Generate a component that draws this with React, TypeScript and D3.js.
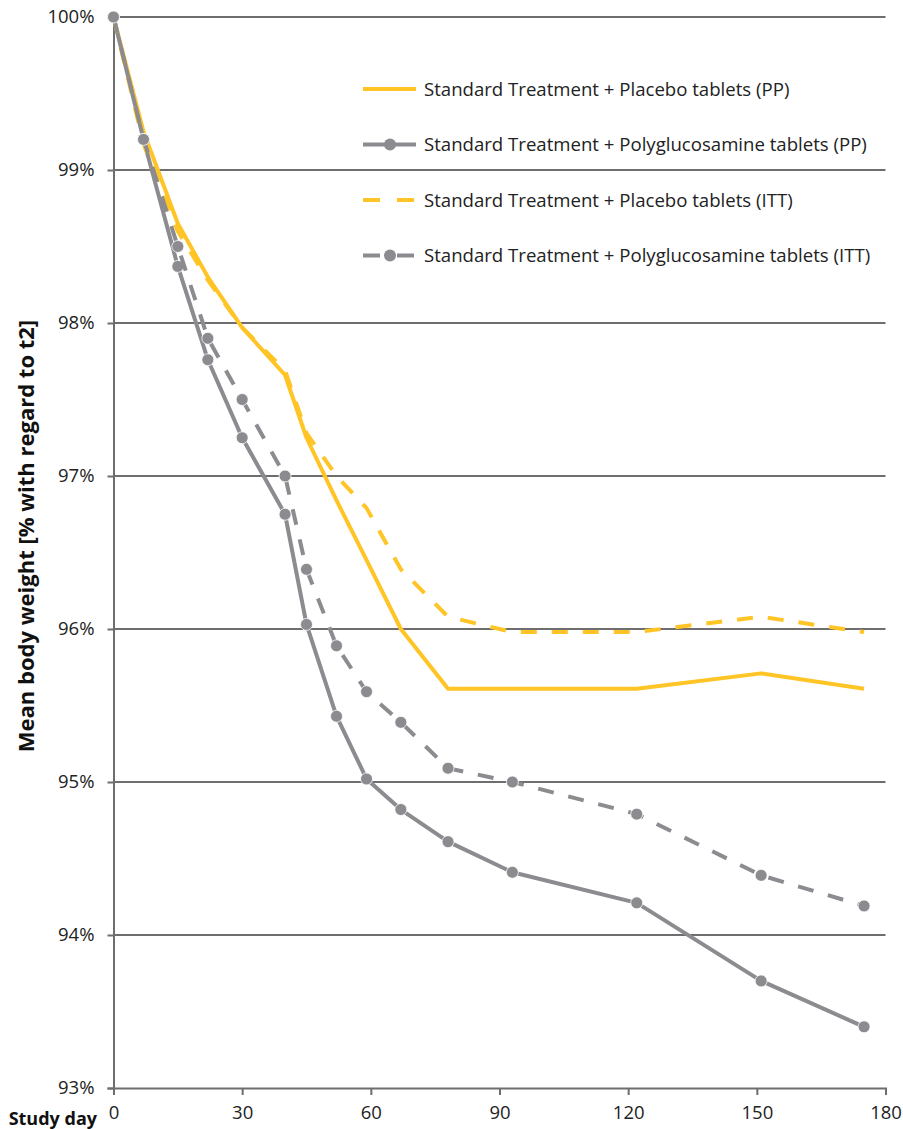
import React, { useEffect, useRef } from "react";
import * as d3 from "d3";

const days = [0, 7, 15, 22, 30, 40, 45, 52, 59, 67, 78, 93, 122, 151, 175];
const placeboPP = [100, 99.25, 98.65, 98.3, 97.97, 97.66, 97.25, 96.84, 96.45, 96.0, 95.61, 95.61, 95.61, 95.71, 95.61];
const polyPP = [100, 99.2, 98.37, 97.76, 97.25, 96.75, 96.03, 95.43, 95.02, 94.82, 94.61, 94.41, 94.21, 93.7, 93.4];
const placeboITT = [100, 99.17, 98.6, 98.28, 97.97, 97.69, 97.28, 97.0, 96.79, 96.39, 96.08, 95.98, 95.98, 96.08, 95.98];
const polyITT = [100, 99.2, 98.5, 97.9, 97.5, 97.0, 96.39, 95.89, 95.59, 95.39, 95.09, 95.0, 94.79, 94.39, 94.19];

const xTicks = [0, 30, 60, 90, 120, 150, 180];
const yTicks = [93, 94, 95, 96, 97, 98, 99, 100];

const seriesNames = [
  "Standard Treatment + Placebo tablets (PP)",
  "Standard Treatment + Polyglucosamine tablets (PP)",
  "Standard Treatment + Placebo tablets (ITT)",
  "Standard Treatment + Polyglucosamine tablets (ITT)",
];

const YELLOW = "#ffc425";
const GRAY = "#8b8b90";
const AXIS = "#6e6e6e";
const FONT = "'Open Sans', sans-serif";

const App = () => {
  const svgRef = useRef(null);
  const width = 903;
  const height = 1129;
  const margin = { top: 17, right: 17.5, bottom: 41, left: 113.5 };

  useEffect(() => {
    const svgEl = d3.select(svgRef.current);
    svgEl.selectAll("*").remove();

    const x = d3
      .scaleLinear()
      .domain([0, 180])
      .range([margin.left, width - margin.right]);

    const y = d3
      .scaleLinear()
      .domain([93, 100])
      .range([height - margin.bottom, margin.top]);

    // gridlines
    svgEl
      .append("g")
      .selectAll("line")
      .data(yTicks.slice(1))
      .join("line")
      .attr("x1", x(0))
      .attr("x2", x(180))
      .attr("y1", (d) => y(d))
      .attr("y2", (d) => y(d))
      .attr("stroke", AXIS)
      .attr("stroke-width", 2);

    // y axis
    const yAxis = (g) =>
      g
        .attr("transform", `translate(${x(0)},0)`)
        .call(d3.axisLeft(y).tickValues(yTicks).tickSize(6).tickPadding(13).tickFormat((d) => `${d}%`))
        .call((g) => g.selectAll("line,path").attr("stroke", AXIS).attr("stroke-width", 2))
        .call((g) => g.selectAll("text").attr("font-family", FONT).attr("font-size", 18.5).attr("fill", "#222"));

    // x axis
    const xAxis = (g) =>
      g
        .attr("transform", `translate(0,${y(93)})`)
        .call(d3.axisBottom(x).tickValues(xTicks).tickSize(7).tickSizeOuter(7).tickPadding(11))
        .call((g) => g.selectAll("line,path").attr("stroke", AXIS).attr("stroke-width", 2))
        .call((g) => g.selectAll("text").attr("font-family", FONT).attr("font-size", 18.5).attr("fill", "#222"));

    svgEl.append("g").attr("class", "y-axis").call(yAxis);
    svgEl.append("g").attr("class", "x-axis").call(xAxis);

    const line = d3
      .line()
      .x((d) => x(d[0]))
      .y((d) => y(d[1]));

    const series = [
      { vals: placeboPP, color: YELLOW, dash: null, marker: false },
      { vals: polyPP, color: GRAY, dash: null, marker: true },
      { vals: placeboITT, color: YELLOW, dash: "16,15", marker: false },
      { vals: polyITT, color: GRAY, dash: "16,15", marker: true },
    ];

    series.forEach((s) => {
      const pts = days.map((d, i) => [d, s.vals[i]]);
      svgEl
        .append("path")
        .datum(pts)
        .attr("d", line)
        .attr("fill", "none")
        .attr("stroke", s.color)
        .attr("stroke-width", 4)
        .attr("stroke-linejoin", "round")
        .attr("stroke-dasharray", s.dash);
      if (s.marker) {
        svgEl
          .append("g")
          .selectAll("circle")
          .data(pts)
          .join("circle")
          .attr("cx", (d) => x(d[0]))
          .attr("cy", (d) => y(d[1]))
          .attr("r", 6)
          .attr("fill", s.color)
          .attr("stroke", "#fff")
          .attr("stroke-width", 0.8);
      }
    });

    // legend
    const legend = svgEl.append("g").attr("transform", "translate(363,89)");
    series.forEach((s, i) => {
      const row = legend.append("g").attr("transform", `translate(0,${i * 55.5})`);
      row
        .append("line")
        .attr("x1", 0)
        .attr("x2", 53)
        .attr("stroke", s.color)
        .attr("stroke-width", 4)
        .attr("stroke-dasharray", s.dash ? "17,17" : null);
      if (s.marker) row.append("circle").attr("cx", 27).attr("r", 6).attr("fill", s.color);
      row
        .append("text")
        .attr("x", 61)
        .attr("dy", "0.35em")
        .attr("font-family", FONT)
        .attr("font-size", 18.6)
        .attr("fill", "#222")
        .text(seriesNames[i]);
    });

    // axis titles
    svgEl
      .append("text")
      .attr("transform", `translate(34,536) rotate(-90)`)
      .attr("text-anchor", "middle")
      .attr("font-family", FONT)
      .attr("font-weight", "bold")
      .attr("font-size", 22)
      .attr("fill", "#111")
      .text("Mean body weight [% with regard to t2]");

    svgEl
      .append("text")
      .attr("x", 97)
      .attr("y", 1125)
      .attr("text-anchor", "end")
      .attr("font-family", FONT)
      .attr("font-weight", "bold")
      .attr("font-size", 18)
      .attr("fill", "#111")
      .text("Study day");
  }, []);

  return (
    <svg
      ref={svgRef}
      width={width}
      height={height}
      style={{ position: "absolute", left: 0, top: 0, background: "#fff" }}
    />
  );
};

export default App;
